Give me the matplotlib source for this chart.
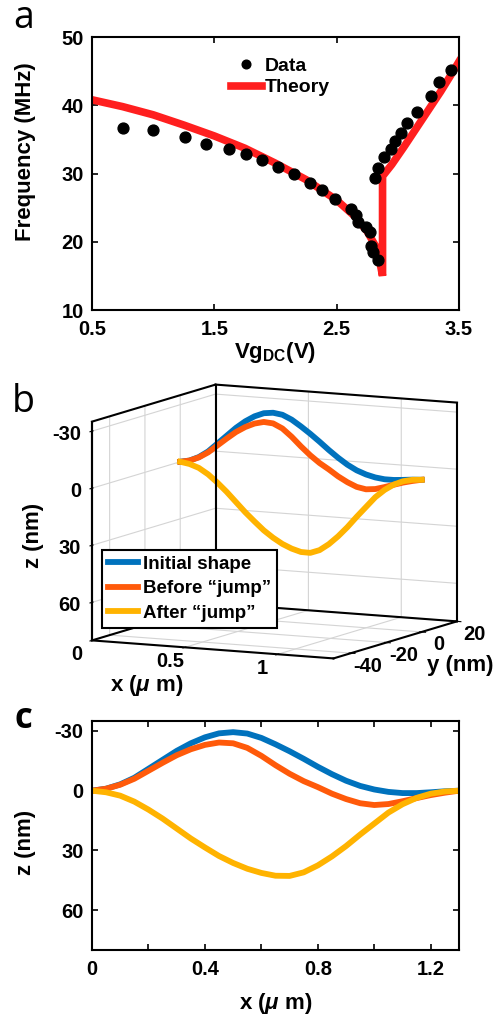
import matplotlib
matplotlib.use('Agg')
import matplotlib.pyplot as plt
import numpy as np
from matplotlib.ticker import MultipleLocator, NullFormatter
from mpl_toolkits.mplot3d import proj3d

plt.rcParams['font.family'] = ['Liberation Sans', 'DejaVu Sans']
plt.rcParams['font.weight'] = 'bold'
plt.rcParams['axes.labelweight'] = 'bold'
plt.rcParams['axes.unicode_minus'] = False
plt.rcParams['mathtext.fontset'] = 'custom'
plt.rcParams['mathtext.rm'] = 'Liberation Sans:bold'
plt.rcParams['mathtext.it'] = 'Liberation Sans:italic:bold'
plt.rcParams['mathtext.bf'] = 'Liberation Sans:bold'
plt.rcParams['grid.color'] = '#d4d4d4'
plt.rcParams['grid.linewidth'] = 0.8

# ---- panel a: frequency vs gate voltage
data_v = [0.756, 1.001, 1.260, 1.432, 1.617, 1.759, 1.892, 2.023, 2.151, 2.282,
          2.377, 2.486, 2.614, 2.658, 2.677, 2.737, 2.772, 2.778, 2.794, 2.835,
          2.813, 2.835, 2.887, 2.941, 2.977, 3.026, 3.078, 3.159, 3.268, 3.339, 3.432]
data_f = [36.65, 36.31, 35.28, 34.35, 33.62, 32.84, 31.91, 30.88, 29.90, 28.63,
          27.60, 26.33, 24.87, 23.89, 22.96, 22.22, 21.39, 19.39, 18.46, 17.33,
          29.41, 30.78, 32.40, 33.62, 34.79, 35.92, 37.38, 39.00, 41.39, 43.40, 45.11]
theory_v = [0.5, 0.75, 1.0, 1.25, 1.5, 1.75, 2.0, 2.25, 2.5, 2.65, 2.75, 2.82, 2.86, 2.875,
            2.875, 2.95, 3.05, 3.15, 3.25, 3.35, 3.45, 3.5]
theory_f = [40.8, 39.8, 38.6, 37.1, 35.5, 33.7, 31.5, 29.1, 26.1, 23.7, 21.5, 19.3, 16.4, 15.0,
            29.6, 31.3, 33.9, 36.6, 39.3, 42.0, 44.9, 46.4]

# ---- panels b, c: beam shapes
shape_x = [0, 0.05, 0.1, 0.15, 0.2, 0.25, 0.3, 0.35, 0.4, 0.45, 0.5, 0.55, 0.6, 0.65,
           0.7, 0.75, 0.8, 0.85, 0.9, 0.95, 1.0, 1.05, 1.1, 1.15, 1.2, 1.25, 1.3]
shape_y = [0] * len(shape_x)
initial_z = [0, -1, -3.2, -6.5, -11, -15.5, -20, -23.8, -26.8, -28.8, -29.4, -28.7, -26.5, -23.3,
             -19.8, -16, -12, -8.3, -5, -2.4, -0.6, 0.6, 1.2, 1.2, 0.8, 0.3, 0]
before_z = [0, -1, -3, -6, -10, -14, -17.8, -20.8, -23, -24.2, -23.8, -21.5, -17.5, -12.8,
            -8.5, -4.8, -1.8, 1.5, 4.2, 6.3, 7.2, 6.7, 5.3, 3.7, 2.2, 1, 0]
after_z = [0, 0.8, 2.5, 5.5, 9.5, 14, 19, 24, 28.5, 32.8, 36.3, 39.2, 41.3, 42.7,
           42.8, 41, 37.5, 33, 27.8, 22, 16.5, 11, 6.8, 3.6, 1.5, 0.4, 0]
shape_names = ['Initial shape', 'Before \u201cjump\u201d', 'After \u201cjump\u201d']
shape_colors = ['#0072BD', '#FF5A0A', '#FFB300']

# 3d panel ticks
b_xticks, b_xlabels = [0, 0.5, 1], ['0', '0.5', '1']
b_yticks = [-40, -20, 0, 20]
b_zticks = [-30, 0, 30, 60]

W, H = 497, 1018
fig = plt.figure(figsize=(W / 100, H / 100), dpi=100)

TICK = 14.5
LAB = 16


def rect(l, t, r, b):
    return [l / W, 1 - b / H, (r - l) / W, (b - t) / H]


# ---------------- a
axa = fig.add_axes(rect(92, 37, 459, 310))
th, = axa.plot(theory_v, theory_f, color='#ff1f1f', lw=5.5, solid_joinstyle='miter', zorder=2)
dt, = axa.plot(data_v, data_f, 'o', color='k', ms=7.8, zorder=3)
axa.set_xlim(0.5, 3.5)
axa.set_ylim(10, 50)
axa.set_xticks([0.5, 1.5, 2.5, 3.5])
axa.set_yticks([10, 20, 30, 40, 50])
axa.tick_params(direction='in', top=True, right=True, length=4, width=1.2, labelsize=TICK)
axa.tick_params(axis='x', pad=7)
axa.tick_params(axis='y', pad=6)
for s in axa.spines.values():
    s.set_linewidth(1.5)
axa.set_xlabel(r'Vg$_{\rm DC}$(V)', fontsize=LAB, labelpad=1)
axa.set_ylabel('Frequency (MHz)', fontsize=LAB)
axa.yaxis.set_label_coords(-0.153, 0.58)
axa.legend([dt, th], ['Data', 'Theory'], loc='upper left', bbox_to_anchor=(0.33, 0.99),
           frameon=False, fontsize=14, handlelength=1.6, handletextpad=0.15,
           labelspacing=0.2, markerscale=0.8)

# ---------------- c
axc = fig.add_axes(rect(92, 721, 459, 950))
for z, c in zip([initial_z, before_z, after_z], shape_colors):
    axc.plot(shape_x, z, color=c, lw=4.2)
axc.set_xlim(0, 1.3)
axc.set_ylim(80, -35)
axc.set_xticks([0, 0.4, 0.8, 1.2])
axc.set_xticklabels(['0', '0.4', '0.8', '1.2'])
axc.xaxis.set_minor_locator(MultipleLocator(0.2))
axc.set_yticks([-30, 0, 30, 60])
axc.tick_params(which='both', direction='in', top=True, right=True, length=4, width=1.2,
                labelsize=TICK)
axc.tick_params(axis='x', pad=7)
axc.tick_params(axis='y', pad=6)
for s in axc.spines.values():
    s.set_linewidth(1.5)
axc.set_xlabel('x ($\\mu$ m)', fontsize=LAB, labelpad=9)
axc.set_ylabel('z (nm)', fontsize=LAB)
axc.yaxis.set_label_coords(-0.153, 0.47)

# ---------------- b
axb = fig.add_axes([0.0, 0.33, 1.0, 0.35], projection='3d', proj_type='ortho')
axb.set_facecolor((1, 1, 1, 0))
axb.view_init(elev=8.6, azim=-63.5)
axb.set_box_aspect((1, 1.026, 0.82))
lines_b = []
for z, c in zip([initial_z, before_z, after_z], shape_colors):
    ln, = axb.plot(shape_x, shape_y, z, color=c, lw=4.2)
    lines_b.append(ln)
xl, yl, zl = (0, 1.3), (-50, 20), (80, -35)
axb.set_xlim(*xl)
axb.set_ylim(*yl)
axb.set_zlim(*zl)
# box edges drawn as in the reference
x0, x1 = xl
y0, y1 = yl
zb, zt = zl
for ex, ey, ez in [((x0, x0), (y0, y1), (zt, zt)), ((x0, x1), (y1, y1), (zt, zt)),
                   ((x0, x0), (y1, y1), (zb, zt)), ((x1, x1), (y1, y1), (zb, zt)),
                   ((x0, x0), (y0, y0), (zb, zt)),
                   ((x0, x0), (y0, y1), (zb, zb)), ((x0, x1), (y1, y1), (zb, zb))]:
    axb.plot(ex, ey, ez, color='k', lw=1.5)
axb.set_xticks(b_xticks)
axb.set_yticks(b_yticks)
axb.set_zticks(b_zticks)
axb.zaxis.set_ticks_position('lower')
for axis in (axb.xaxis, axb.yaxis, axb.zaxis):
    axis.set_major_formatter(NullFormatter())
    axis.set_pane_color((1, 1, 1, 1))
    axis.pane.set_edgecolor('none')
    axis.line.set_color('k')
    axis.line.set_linewidth(1.5)
leg = axb.legend(lines_b, shape_names, loc='upper left', bbox_to_anchor=(102 / W, 1 - 550 / H),
                 bbox_transform=fig.transFigure, borderaxespad=0, fontsize=13.5,
                 handlelength=1.6, handletextpad=0.3, labelspacing=0.4, borderpad=0.3,
                 fancybox=False, edgecolor='k', framealpha=1)
leg.get_frame().set_linewidth(1.5)

# fit the projected box onto the reference footprint
fig.canvas.draw()
M = axb.get_proj()


def to_px(xs, ys, zs):
    px, py, _ = proj3d.proj_transform(np.asarray(xs, float), np.asarray(ys, float),
                                      np.asarray(zs, float), M)
    return axb.transData.transform(np.column_stack([px, py]))


cx_, cy_, cz_ = [], [], []
for xv in xl:
    for yv in yl:
        for zv in zl:
            cx_.append(xv); cy_.append(yv); cz_.append(zv)
pts = to_px(cx_, cy_, cz_)
pos = axb.get_position()
S = pos.width * W
c0 = np.array([(pos.x0 + pos.x1) / 2 * W, (pos.y0 + pos.y1) / 2 * H])
u = (pts - c0) / S
left, right, top, bottom = 92, 457, H - 385, H - 658
S_new = (right - left) / (u[:, 0].max() - u[:, 0].min())
cxn = left - u[:, 0].min() * S_new
cyn = (top + bottom) / 2 - (u[:, 1].max() + u[:, 1].min()) / 2 * S_new
axb.set_position([(cxn - S_new / 2) / W, (cyn - S_new / 2) / H, S_new / W, S_new / H])
fig.canvas.draw()
M = axb.get_proj()

# tick labels of the 3d panel, set out from the projected tick points as in the reference
n = len(b_xticks)
for p, s in zip(to_px(b_xticks, [y0] * n, [zb] * n), b_xlabels):
    fig.text((p[0] - 15) / W, (p[1] - 14) / H, s, ha='center', va='center', fontsize=TICK)
n = len(b_yticks)
for p, t in zip(to_px([x1] * n, b_yticks, [zb] * n), b_yticks):
    fig.text((p[0] + 17) / W, (p[1] - 13) / H, str(t), ha='center', va='center', fontsize=TICK)
n = len(b_zticks)
for p, t in zip(to_px([x0] * n, [y0] * n, b_zticks), b_zticks):
    fig.text((p[0] - 11) / W, (p[1] - 3) / H, str(t), ha='right', va='center', fontsize=TICK)

# axis labels of the 3d panel
fig.text(33 / W, 1 - 535 / H, 'z (nm)', rotation=90, ha='center', va='center', fontsize=LAB)
fig.text(147 / W, 1 - 685 / H, 'x ($\\mu$ m)', ha='center', va='center', fontsize=LAB)
fig.text(460 / W, 1 - 665 / H, 'y (nm)', ha='center', va='center', fontsize=LAB)

# panel letters
fig.text(13 / W, 1 - 28 / H, 'a', fontsize=27, fontweight='normal', family='Open Sans')
fig.text(12 / W, 1 - 412 / H, 'b', fontsize=27, fontweight='normal', family='Open Sans')
fig.text(14 / W, 1 - 728 / H, 'c', fontsize=25, fontweight='bold', family='Open Sans')

fig.savefig('out.png', dpi=100)
